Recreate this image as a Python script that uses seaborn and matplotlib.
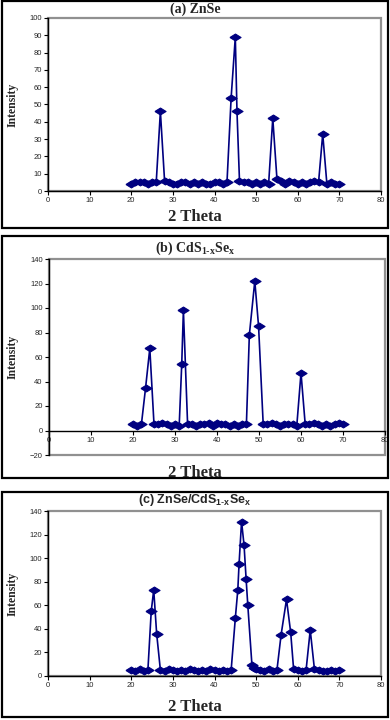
import matplotlib
matplotlib.use("Agg")
import matplotlib.pyplot as plt
from matplotlib.patches import Rectangle
import seaborn as sns
import pandas as pd

# (a) ZnSe
x_a = [20, 21, 22, 23, 24, 25, 26, 27, 28, 29, 30, 31, 32, 33, 34, 35, 36, 37, 38, 39,
       40, 41, 42, 43, 44, 45, 45.4, 46, 47, 48, 49, 50, 51, 52, 53, 54, 55, 56, 57, 58,
       59, 60, 61, 62, 63, 64, 65, 66, 67, 68, 69, 70]
y_a = [4, 5, 5, 5, 4, 5, 5, 46, 6, 5, 4, 4, 5, 5, 4, 5, 4, 5, 4, 4,
       5, 5, 4, 5, 54, 89, 46, 6, 5, 5, 4, 5, 4, 5, 4, 42, 7, 6, 4, 6,
       5, 4, 5, 4, 5, 6, 5, 33, 4, 5, 4, 4]

# (b) CdS1-xSex
x_b = [20, 21, 22, 23, 24, 25, 26, 27, 28, 29, 30, 31, 31.6, 32, 33, 34, 35, 36, 37, 38,
       39, 40, 41, 42, 43, 44, 45, 46, 47, 47.7, 49, 49.9, 51, 52, 53, 54, 55, 56, 57, 58,
       59, 60, 61, 62, 63, 64, 65, 66, 67, 68, 69, 70]
y_b = [5, 4, 5, 35, 67, 5, 5, 6, 5, 4, 5, 4, 54, 98, 5, 5, 4, 5, 5, 6,
       4, 6, 5, 5, 4, 5, 4, 5, 5, 78, 122, 85, 5, 5, 6, 5, 4, 5, 5, 5,
       4, 47, 5, 5, 6, 5, 4, 5, 4, 5, 6, 5]

# (c) ZnSe/CdS1-xSex
x_c = [20, 21, 22, 23, 24, 24.8, 25.4, 26.1, 27, 28, 29, 30, 31, 32, 33, 34, 35, 36, 37, 38,
       39, 40, 41, 42, 43, 44, 45, 45.6, 45.9, 46.5, 47.1, 47.6, 48, 49, 49.5, 50, 51, 52, 53, 54,
       55, 56, 57.3, 58.3, 59, 60, 61, 62, 63, 64, 65, 66, 67, 68, 69, 70]
y_c = [5, 4, 6, 4, 5, 55, 73, 36, 5, 4, 6, 5, 4, 5, 4, 6, 5, 4, 5, 4,
       6, 5, 4, 5, 4, 5, 49, 73, 95, 131, 111, 82, 60, 9, 7, 6, 5, 4, 6, 4,
       5, 35, 65, 37, 6, 5, 4, 5, 39, 6, 5, 4, 4, 5, 4, 5]

titles = ["(a) ZnSe", r"(b) CdS$_{\mathregular{1\text{-}x}}$Se$_{\mathregular{x}}$",
          r"(c) ZnSe/CdS$_{\mathregular{1\text{-}x}}$Se$_{\mathregular{x}}$"]

sns.set_style("white")
plt.rcParams['font.family'] = ['Liberation Sans', 'DejaVu Sans']

# wide, flat diamond like the Excel marker
diamond = [(-1, 0), (0, 0.62), (1, 0), (0, -0.62), (-1, 0)]

fig = plt.figure(figsize=(3.9, 7.2), dpi=100)
W, H = 390.0, 720.0

def px_axes(l, t, r, b):
    return fig.add_axes([l / W, 1 - b / H, (r - l) / W, (b - t) / H])

# panel frames
for (t, b) in [(1, 228), (236, 478), (492, 717)]:
    fig.patches.append(Rectangle((1.5 / W, 1 - b / H), 386 / W, (b - t) / H,
                                 transform=fig.transFigure, fill=False,
                                 edgecolor="black", linewidth=1.6))

specs = [
    (x_a, y_a, (48, 18, 381, 191), (0, 100), range(0, 101, 10), 9, 217),
    (x_b, y_b, (49, 259, 385, 455), (-20, 140), range(-20, 141, 20), 248, 473),
    (x_c, y_c, (48, 511, 381, 676), (0, 140), range(0, 141, 20), 500, 707),
]

for i, (xs, ys, box, ylim, yt, ty, xly) in enumerate(specs):
    ax = px_axes(*box)
    df = pd.DataFrame({"theta": xs, "intensity": ys})
    sns.lineplot(data=df, x="theta", y="intensity", ax=ax, color="#000080",
                 marker=diamond, markersize=8, markeredgecolor="#000080",
                 markeredgewidth=0.8, linewidth=1.2, estimator=None, sort=False)
    ax.set_xlim(0, 80)
    ax.set_ylim(*ylim)
    ax.set_xticks(range(0, 81, 10))
    ax.set_yticks(list(yt))
    ax.set_xlabel("")
    ax.set_ylabel("")
    for s in ax.spines.values():
        s.set_visible(False)
    ax.spines["left"].set_visible(True)
    ax.spines["bottom"].set_visible(True)
    ax.spines["left"].set_color("black")
    ax.spines["bottom"].set_color("black")
    ax.spines["left"].set_linewidth(1.0)
    ax.spines["bottom"].set_linewidth(1.0)
    if ylim[0] < 0:
        ax.spines["bottom"].set_position(("data", 0))
    ax.add_patch(Rectangle((0, 0), 1, 1, transform=ax.transAxes, fill=False,
                           edgecolor="#909090", linewidth=1.6, zorder=0,
                           clip_on=False))
    ax.tick_params(axis="both", which="major", labelsize=5.5, length=3,
                   width=0.8, color="black", pad=1.5, direction="out",
                   bottom=True, left=True)
    ax.grid(False)

    if i < 2:
        fig.text(0.5, 1 - ty / H, titles[i], ha="center", va="center",
                 fontsize=10, fontweight="bold", family=["Liberation Serif"])
    else:
        fig.text(0.5, 1 - ty / H, titles[i], ha="center", va="center",
                 fontsize=9, fontweight="bold", family=["Liberation Sans"])
    fig.text(0.5, 1 - xly / H, "2 Theta", ha="center", va="center",
             fontsize=12, fontweight="bold", family=["Liberation Serif"])
    mid = (box[1] + box[3]) / 2
    fig.text(13 / W, 1 - mid / H, "Intensity", ha="center", va="center",
             rotation=90, fontsize=8.5, fontweight="bold",
             family=["Liberation Serif"])

fig.savefig("out.png", dpi=100)
